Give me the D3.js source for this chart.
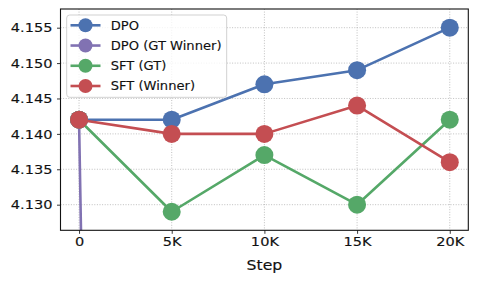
<!DOCTYPE html>
<html><head><meta charset="utf-8">
<script src="https://cdn.jsdelivr.net/npm/d3@7"></script>
<style>body{margin:0;background:#fff}svg{display:block;font-family:"DejaVu Sans",sans-serif}</style>
</head><body><svg id="c" width="478" height="284"></svg>
<script>
const steps = [0, 5000, 10000, 15000, 20000];
const stepLabels = ["0", "5K", "10K", "15K", "20K"];
const yTicks = [4.130, 4.135, 4.140, 4.145, 4.150, 4.155];
const seriesNames = ["DPO", "DPO (GT Winner)", "SFT (GT)", "SFT (Winner)"];
const seriesColors = ["#4C72B0", "#8172B2", "#55A868", "#C44E52"];
const dpo = [4.142, 4.142, 4.147, 4.149, 4.155];
const dpoGT = [4.142, 3.40, 3.40, 3.40, 3.40];
const sftGT = [4.142, 4.129, 4.137, 4.130, 4.142];
const sftWinner = [4.142, 4.140, 4.140, 4.144, 4.136];
const seriesValues = [dpo, dpoGT, sftGT, sftWinner];

const SX = 1.12;
const svg = d3.select("#c");
const L = 60.5, R = 468.3, T = 9, B = 230.3;
const x = d3.scaleLinear().domain([-1000, 21000]).range([L, R]);
const y = d3.scaleLinear().domain([4.12638, 4.15764]).range([B, T]);

svg.append("defs").append("clipPath").attr("id", "clip")
  .append("rect").attr("x", L).attr("y", T).attr("width", R - L).attr("height", B - T);

// grid
const grid = svg.append("g").attr("stroke", "#b0b0b0").attr("stroke-width", 0.8).attr("stroke-dasharray", "1,1.6");
grid.selectAll(".gx").data(steps).join("line")
  .attr("x1", d => x(d)).attr("x2", d => x(d)).attr("y1", T).attr("y2", B);
grid.selectAll(".gy").data(yTicks).join("line")
  .attr("y1", d => y(d)).attr("y2", d => y(d)).attr("x1", L).attr("x2", R);

// series
const plot = svg.append("g").attr("clip-path", "url(#clip)");
const line = d3.line().x((d, i) => x(steps[i])).y(d => y(d));
seriesValues.forEach((vals, k) => {
  const g = plot.append("g");
  g.append("path").datum(vals).attr("d", line).attr("fill", "none")
    .attr("stroke", seriesColors[k]).attr("stroke-width", 2.6).attr("stroke-linejoin", "round");
  g.selectAll("circle").data(vals).join("circle")
    .attr("cx", (d, i) => x(steps[i])).attr("cy", d => y(d)).attr("r", 9)
    .attr("fill", seriesColors[k]);
});

// axes
const xAxis = d3.axisBottom(x).tickValues(steps).tickFormat((d, i) => stepLabels[i]).tickSize(3.5).tickPadding(3);
const yAxis = d3.axisLeft(y).tickValues(yTicks).tickFormat(d3.format(".3f")).tickSize(3.5).tickPadding(4.5);
const gx = svg.append("g").attr("transform", `translate(0,${B})`).call(xAxis);
const gy = svg.append("g").attr("transform", `translate(${L},0)`).call(yAxis);
[gx, gy].forEach(g => {
  g.select(".domain").remove();
  g.selectAll("line").attr("stroke", "#222").attr("stroke-width", 0.9);
  g.selectAll("text").attr("font-size", 13).attr("fill", "#111").attr("font-family", "DejaVu Sans")
    .attr("stroke", "#111").attr("stroke-width", 0.15);
});
gx.selectAll("text").attr("transform", `scale(${SX},1)`);
gy.selectAll("text").each(function() {
  const t = d3.select(this);
  t.attr("x", +t.attr("x") / SX).attr("transform", `scale(${SX},1)`);
});

// frame
svg.append("rect").attr("x", L).attr("y", T).attr("width", R - L).attr("height", B - T)
  .attr("fill", "none").attr("stroke", "#111").attr("stroke-width", 1.1);

// x label
svg.append("text").attr("transform", `translate(${(L + R) / 2},270) scale(${SX},1)`)
  .attr("text-anchor", "middle").attr("font-size", 14).attr("fill", "#111")
  .attr("stroke", "#111").attr("stroke-width", 0.15).text("Step");

// legend
const lg = svg.append("g");
lg.append("rect").attr("x", 66.7).attr("y", 15).attr("width", 160).attr("height", 82.3).attr("rx", 3)
  .attr("fill", "white").attr("fill-opacity", 0.8).attr("stroke", "#cccccc").attr("stroke-width", 0.9);
const rowY = d3.scaleLinear().domain([0, 3]).range([25.3, 86]);
seriesNames.forEach((name, k) => {
  const yy = rowY(k);
  lg.append("line").attr("x1", 70.5).attr("x2", 100.5).attr("y1", yy).attr("y2", yy)
    .attr("stroke", seriesColors[k]).attr("stroke-width", 2.6);
  lg.append("circle").attr("cx", 85.5).attr("cy", yy).attr("r", 7).attr("fill", seriesColors[k]);
  lg.append("text").attr("transform", `translate(110.7,${yy + 4.2}) scale(${SX},1)`)
    .attr("font-size", 11.7).attr("fill", "#111").attr("stroke", "#111").attr("stroke-width", 0.12).text(name);
});
</script></body></html>
